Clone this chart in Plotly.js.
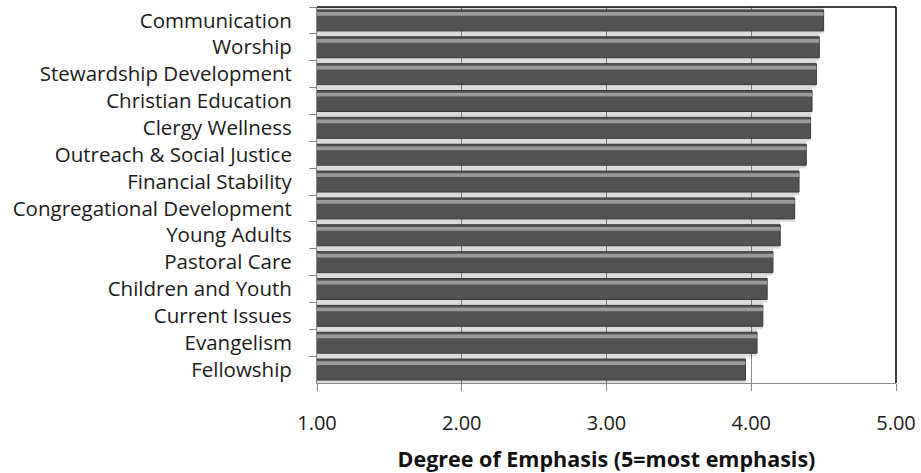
<!DOCTYPE html>
<html>
<head>
<meta charset="utf-8">
<script src="https://cdn.plot.ly/plotly-3.0.1.min.js"></script>
<style>html,body{margin:0;padding:0;background:#fff;}#chart{width:921px;height:473px;}</style>
</head>
<body>
<div id="chart"></div>
<script>
const categories = [
  "Communication",
  "Worship",
  "Stewardship Development",
  "Christian Education",
  "Clergy Wellness",
  "Outreach & Social Justice",
  "Financial Stability",
  "Congregational Development",
  "Young Adults",
  "Pastoral Care",
  "Children and Youth",
  "Current Issues",
  "Evangelism",
  "Fellowship"
];
const values = [4.50, 4.47, 4.45, 4.42, 4.41, 4.38, 4.33, 4.30, 4.20, 4.15, 4.11, 4.08, 4.04, 3.96];
const tickValues = [1, 2, 3, 4, 5];
const tickLabels = ["1.00", "2.00", "3.00", "4.00", "5.00"];
const axisTitle = "Degree of Emphasis (5=most emphasis)";

const FONT = "Open Sans, Noto Sans, sans-serif";

const shadow = {
  type: "bar", orientation: "h", y: categories, x: values,
  offset: -0.5, width: 1.0,
  marker: { color: "rgba(0,0,0,0.14)", line: { width: 0 } },
  hoverinfo: "skip", showlegend: false
};
const main = {
  type: "bar", orientation: "h", y: categories, x: values,
  offset: -0.39, width: 0.78,
  marker: { color: "#525252", line: { color: "#3a3a3a", width: 1 } },
  showlegend: false
};
const highlight = {
  type: "bar", orientation: "h", y: categories, x: values,
  offset: -0.31, width: 0.14,
  marker: { color: "#9a9a9a", line: { width: 0 } },
  hoverinfo: "skip", showlegend: false
};

const layout = {
  width: 921, height: 473,
  margin: { l: 317, r: 25, t: 7, b: 90, pad: 0 },
  paper_bgcolor: "#ffffff", plot_bgcolor: "#ffffff",
  barmode: "overlay",
  font: { family: FONT, size: 20, color: "#1a1a1a" },
  xaxis: {
    range: [1, 5], tickmode: "array", tickvals: tickValues, ticktext: tickLabels,
    ticks: "outside", ticklen: 7, tickcolor: "#888888", tickwidth: 1,
    showline: true, linecolor: "#888888", linewidth: 1,
    showgrid: true, gridcolor: "#8c8c8c", gridwidth: 1,
    zeroline: false, ticklabelstandoff: 15,
    tickfont: { family: FONT, size: 20, color: "#1a1a1a" },
    title: { text: axisTitle, font: { family: FONT, size: 21.5, color: "#111", weight: "bold" }, standoff: 18 }
  },
  yaxis: {
    type: "category", autorange: "reversed",
    ticks: "outside", ticklen: 7, tickcolor: "#888888", tickwidth: 1,
    tickson: "boundaries",
    showline: true, linecolor: "#888888", linewidth: 1,
    showgrid: false, zeroline: false, ticklabelstandoff: 20,
    tickfont: { family: FONT, size: 20.5, color: "#1a1a1a" }
  },
  shapes: [
    { type: "line", xref: "paper", yref: "paper", x0: 0, x1: 1, y0: 1, y1: 1, line: { color: "#000", width: 1.5 } },
    { type: "line", xref: "paper", yref: "paper", x0: 1, x1: 1, y0: 0, y1: 1, line: { color: "#000", width: 1.5 } }
  ]
};

Plotly.newPlot("chart", [shadow, main, highlight], layout, { staticPlot: true, displayModeBar: false });
</script>
</body>
</html>
